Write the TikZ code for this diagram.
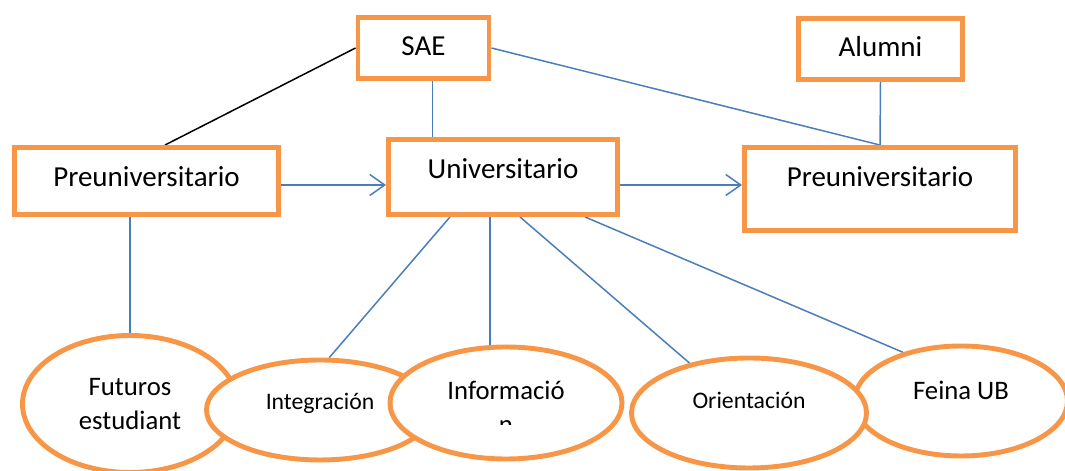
\documentclass[tikz,border=0pt]{standalone}
\usepackage{fontspec}
\setmainfont{Carlito}
\usetikzlibrary{shapes.geometric,arrows.meta,calc,backgrounds}

\definecolor{boxorange}{HTML}{F79646}
\definecolor{connblue}{HTML}{4A7EBB}

\begin{document}
\begin{tikzpicture}[
    box/.style={draw=boxorange, line width=2.8pt, fill=white, rectangle, inner sep=0pt, text height=11pt, text depth=3pt, font=\fontsize{16.5}{20}\selectfont},
    bubble/.style={draw=boxorange, line width=2.8pt, fill=white, ellipse, inner sep=0pt, align=center},
    bigtext/.style={font=\fontsize{15.2}{19.3}\selectfont},
    smalltext/.style={font=\fontsize{13.5}{16}\selectfont},
    conn/.style={draw=connblue, line width=0.85pt},
    arrow/.style={conn, -{Straight Barb[length=3mm,width=4.2mm]}}
]
\useasboundingbox (0,0) rectangle (21.3,9.42);

% Top row
\node[box, minimum width=2.62cm, minimum height=1.22cm] (sae) at (8.47,8.46) {SAE};
\node[box, minimum width=3.28cm, minimum height=1.22cm] (alumni) at (17.61,8.44) {Alumni};

% Middle row
\node[box, minimum width=5.28cm, minimum height=1.34cm, text depth=4.5pt] (pre) at (2.93,5.8) {Preuniversitario};
\node[box, minimum width=4.58cm, minimum height=1.5cm, text depth=9.8pt] (uni) at (10.06,5.88) {Universitario};
\node[box, minimum width=5.42cm, minimum height=1.66cm, text depth=13.5pt] (post) at (17.6,5.64) {Preuniversitario};

% Bottom row
\node[bubble, bigtext, minimum width=4.3cm, minimum height=2.74cm] (fut) at (2.6,1.34) {Futuros\\estudiant};
\node[bubble, smalltext, minimum width=4.54cm, minimum height=2cm, text height=11pt, text depth=12pt] (int) at (6.4,1.22) {Integración};
\node[bubble, minimum width=4.64cm, minimum height=2.24cm] (inf) at (10.12,1.36) {};
\begin{scope}
  \clip ([yshift=-0.44cm]inf.west) rectangle ([yshift=1.2cm]inf.east);
  \node[bigtext, align=center, inner sep=0pt] (inftxt) at ([yshift=-0.09cm]inf.center) {Informació\\n};
\end{scope}
\node[bubble, bigtext, minimum width=4.26cm, minimum height=2.2cm, text height=11pt, text depth=12.6pt] (fei) at (19.22,1.4) {Feina UB};
\node[bubble, smalltext, minimum width=4.7cm, minimum height=2.2cm, text height=11pt, text depth=16.6pt] (ori) at (14.98,1.16) {Orientación};

% Connectors
\begin{scope}[on background layer]
\draw[black, line width=0.85pt] (sae.west) -- ([xshift=0.37cm]pre.north);
\draw[conn] ([xshift=0.18cm]sae.south) -- ([xshift=0.18cm]sae.south |- uni.north);
\draw[conn] (sae.east) -- (post.north);
\draw[conn] (alumni.south) -- (post.north);
\draw[arrow] ([yshift=-0.08cm]pre.east) -- ([yshift=-0.08cm]pre.east -| uni.west);
\draw[arrow] ([yshift=-0.08cm]uni.east |- pre.east) -- ([yshift=-0.08cm]pre.east -| post.west);
\draw[conn] (fut.north |- pre.south) -- (fut.north);
\draw[conn] ([xshift=-1.06cm]uni.south) -- (int.80);
\draw[conn] ([xshift=-0.26cm]uni.south) -- ([xshift=-0.26cm]uni.south |- inf.north);
\draw[conn] ([xshift=0.34cm]uni.south) -- (ori.140);
\draw[conn] ([xshift=1.64cm]uni.south) -- (fei.140);
\end{scope}

\end{tikzpicture}
\end{document}
